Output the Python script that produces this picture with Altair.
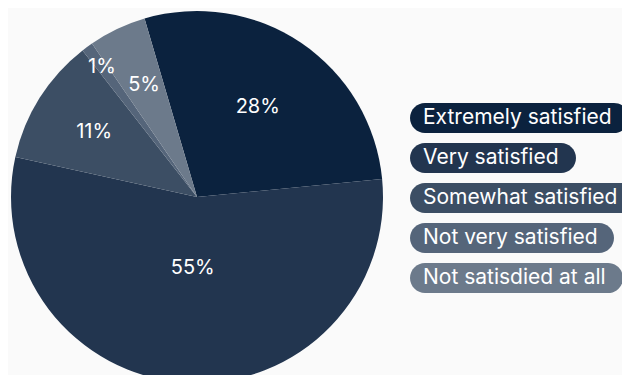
import math
import altair as alt
import pandas as pd

# ---- data ----
categories = ["Extremely satisfied", "Very satisfied", "Somewhat satisfied",
              "Not very satisfied", "Not satisdied at all"]
values = [28, 55, 11, 1, 5]

# ---- style ----
colors = ["#0b223e", "#22354f", "#3c4e64", "#55657a", "#6c7a8b"]
pill_widths = [219, 166, 226, 204, 213]
R = 186
START = -0.286
FONT = "Inter"
PIE_W, PIE_H = 378, 367
LEG_W, LEG_H = 212, 367
SPACING = 24

df = pd.DataFrame({
    "label": categories,
    "value": values,
    "idx": list(range(len(categories))),
    "pw": pill_widths,
})

total = sum(values)
color_scale = alt.Scale(domain=categories, range=colors)
theta_scale = alt.Scale(domain=[0, total], range=[START, START + 2 * math.pi])

base = alt.Chart(df).transform_joinaggregate(total="sum(value)").transform_window(
    cum="sum(value)", sort=[alt.SortField("idx", order="ascending")],
    frame=[None, 0],
).transform_calculate(
    mid="datum.cum - datum.value/2",
    pct="round(100*datum.value/datum.total) + '%'",
    half="PI*datum.value/datum.total",
).transform_calculate(
    lr=f"datum.value/datum.total < 0.03 ? {R}*0.865 : 2*{R}*sin(datum.half)/(3*datum.half)"
)

arcs = base.mark_arc(outerRadius=R, clip=True).encode(
    theta=alt.Theta("value:Q", stack=True, scale=theta_scale),
    color=alt.Color("label:N", scale=color_scale, legend=None),
    order=alt.Order("idx:Q"),
    x=alt.value(189),
    y=alt.value(189),
)

labels = base.mark_text(font=FONT, fontSize=20, color="#ffffff",
                        align="center", baseline="middle").encode(
    theta=alt.Theta("mid:Q", stack=False, scale=theta_scale),
    radius=alt.Radius("lr:Q", scale=None),
    text="pct:N",
    x=alt.value(189),
    y=alt.value(189),
)

pie = alt.layer(arcs, labels).properties(width=PIE_W, height=PIE_H)

ysc = alt.Scale(domain=[-2.75, (LEG_H - 110) / 40], range=[0, LEG_H])
xsc = alt.Scale(domain=[0, LEG_W], range=[0, LEG_W])
lbase = alt.Chart(df).transform_calculate(
    x0="0", ytop="datum.idx - 0.375", ybot="datum.idx + 0.375"
)
pills = lbase.mark_rect(cornerRadius=15, clip=True).encode(
    y=alt.Y("ytop:Q", scale=ysc, axis=None),
    y2="ybot:Q",
    x=alt.X("x0:Q", scale=xsc, axis=None),
    x2="pw:Q",
    color=alt.Color("label:N", scale=color_scale, legend=None),
)

ltext = lbase.mark_text(font=FONT, fontSize=21, color="#ffffff",
                        align="left", baseline="middle", clip=True).encode(
    y=alt.Y("idx:Q", scale=ysc, axis=None),
    x=alt.value(13),
    text="label:N",
)

legend = alt.layer(pills, ltext).properties(width=LEG_W, height=LEG_H)

chart = alt.hconcat(pie, legend, spacing=SPACING).properties(
    padding=0, background="#fafafa"
).configure_view(stroke=None)

chart.save("out.html", embed_options={"renderer": "svg", "actions": False})
